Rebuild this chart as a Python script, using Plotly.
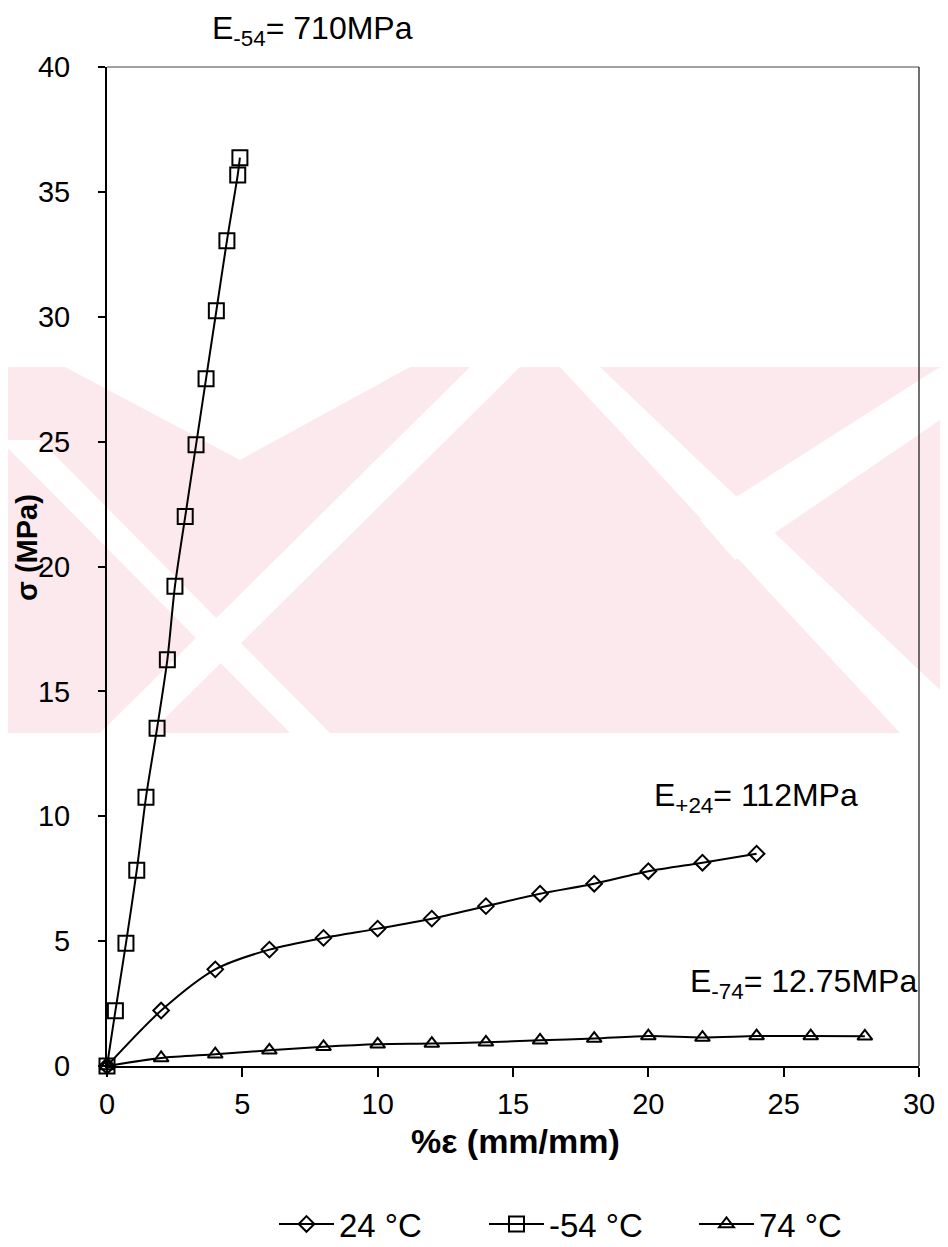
import plotly.graph_objects as go

# ---- data ----
strain_24 = [0, 2, 4, 6, 8, 10, 12, 14, 16, 18, 20, 22, 24]
stress_24 = [0, 2.22, 3.87, 4.66, 5.13, 5.5, 5.9, 6.4, 6.9, 7.3, 7.8, 8.14, 8.5]

strain_m54 = [0, 0.31, 0.70, 1.10, 1.44, 1.85, 2.23, 2.51, 2.89, 3.29, 3.66, 4.04, 4.43, 4.83, 4.91]
stress_m54 = [0, 2.21, 4.91, 7.84, 10.76, 13.52, 16.27, 19.21, 22.0, 24.87, 27.52, 30.24, 33.04, 35.68, 36.37]

strain_74 = [0, 2, 4, 6, 8, 10, 12, 14, 16, 18, 20, 22, 24, 26, 28]
stress_74 = [0, 0.32, 0.47, 0.63, 0.77, 0.87, 0.9, 0.95, 1.03, 1.1, 1.2, 1.14, 1.2, 1.2, 1.19]

series_names = ["24 °C", "-54 °C", "74 °C"]
x_ticks = [0, 5, 10, 15, 20, 25, 30]
y_ticks = [0, 5, 10, 15, 20, 25, 30, 35, 40]

FONT = "Arial, Liberation Sans, sans-serif"
OFF = 8                      # page body margin
W, H = 948 - OFF, 1247 - OFF
L, R, T, B = 107, 919, 67, 1066   # plot area in page pixels


def P(px, py):
    return (px - L) / (R - L), (B - py) / (B - T)


def path(pts):
    s = ""
    for i, (a, b) in enumerate(pts):
        x, y = P(a, b)
        s += ("M" if i == 0 else "L") + f"{x:.4f},{y:.4f} "
    return s + "Z"


fig = go.Figure()

common = dict(mode="lines+markers", line=dict(color="black", width=2, shape="spline", smoothing=0.8),
              cliponaxis=False)
fig.add_trace(go.Scatter(x=strain_24, y=stress_24, name=series_names[0],
                         marker=dict(symbol="diamond-open", size=12, color="black", line=dict(width=2, color="black")),
                         **common))
fig.add_trace(go.Scatter(x=strain_m54, y=stress_m54, name=series_names[1],
                         marker=dict(symbol="square-open", size=15, color="black", line=dict(width=2, color="black")),
                         **common))
fig.add_trace(go.Scatter(x=strain_74, y=stress_74, name=series_names[2],
                         marker=dict(symbol="triangle-up-open", size=13, color="black", line=dict(width=2, color="black")),
                         **common))

# faint background watermark (decoration)
pink = "rgba(250,215,222,0.55)"
shapes = []
shapes.append(dict(type="path", xref="paper", yref="paper", layer="below",
                   path=path([(0, 367), (940, 367), (940, 733), (0, 733)]),
                   fillcolor=pink, line=dict(width=0)))
white = "white"
for pts in [
    [(65, 367), (410, 367), (240, 460)],
    [(0, 440), (40, 440), (330, 733), (290, 733)],
    [(470, 367), (520, 367), (150, 733), (100, 733)],
    [(560, 367), (600, 367), (940, 690), (940, 733), (900, 733)],
    [(700, 520), (940, 367), (940, 420), (735, 560)],
]:
    shapes.append(dict(type="path", xref="paper", yref="paper", layer="below",
                       path=path(pts), fillcolor=white, line=dict(width=0)))

# lighter top / right frame lines (as in the scan)
shapes.append(dict(type="line", xref="paper", yref="paper", x0=0, x1=1, y0=1, y1=1,
                   line=dict(color="#444444", width=1.2)))
shapes.append(dict(type="line", xref="paper", yref="paper", x0=1, x1=1, y0=0, y1=1,
                   line=dict(color="#333333", width=1.4)))

ann_font = dict(size=32, color="black", family=FONT)
annotations = [
    dict(text="E<sub>-54</sub>= 710MPa", x=P(312, 0)[0], y=P(0, 8)[1], xref="paper", yref="paper",
         showarrow=False, xanchor="center", yanchor="top", font=ann_font),
    dict(text="E<sub>+24</sub>= 112MPa", x=P(756, 0)[0], y=P(0, 797)[1], xref="paper", yref="paper",
         showarrow=False, xanchor="center", yanchor="middle", font=ann_font),
    dict(text="E<sub>-74</sub>= 12.75MPa", x=P(803, 0)[0], y=P(0, 983)[1], xref="paper", yref="paper",
         showarrow=False, xanchor="center", yanchor="middle", font=ann_font),
    dict(text="<b>σ (MPa)</b>", x=P(27, 0)[0], y=P(0, 548)[1], xref="paper", yref="paper", textangle=-90,
         showarrow=False, xanchor="center", yanchor="middle", font=dict(size=29, color="black", family=FONT)),
    dict(text="<b>%ε (mm/mm)</b>", x=P(515, 0)[0], y=P(0, 1141)[1], xref="paper", yref="paper",
         showarrow=False, xanchor="center", yanchor="middle", font=dict(size=34, color="black", family=FONT)),
]

fig.update_layout(
    width=W, height=H,
    margin=dict(l=L - OFF, r=W - (R - OFF), t=T - OFF, b=H - (B - OFF), autoexpand=False),
    paper_bgcolor="white", plot_bgcolor="rgba(0,0,0,0)",
    font=dict(family=FONT, size=29, color="black"),
    shapes=shapes, annotations=annotations,
    showlegend=True,
    legend=dict(orientation="h", xref="container", yref="container", x=(274 - OFF) / W,
                y=1 - (1224 - OFF) / H,
                xanchor="left", yanchor="middle", entrywidth=140, entrywidthmode="pixels",
                itemwidth=55, font=dict(size=33, family=FONT, color="black"), bgcolor="rgba(0,0,0,0)"),
    xaxis=dict(range=[0, 30], tickvals=x_ticks, showgrid=False, zeroline=False, automargin=False,
               showline=True, linecolor="black", linewidth=1.6, mirror=False,
               ticks="outside", ticklen=9, tickcolor="black", tickwidth=1.5, ticklabelstandoff=2),
    yaxis=dict(range=[0, 40], tickvals=y_ticks, showgrid=False, zeroline=False, automargin=False,
               showline=True, linecolor="black", linewidth=2, mirror=False,
               ticks="outside", ticklen=7, tickcolor="black", tickwidth=1.5, ticklabelstandoff=22),
)

fig.write_html("out.html")
